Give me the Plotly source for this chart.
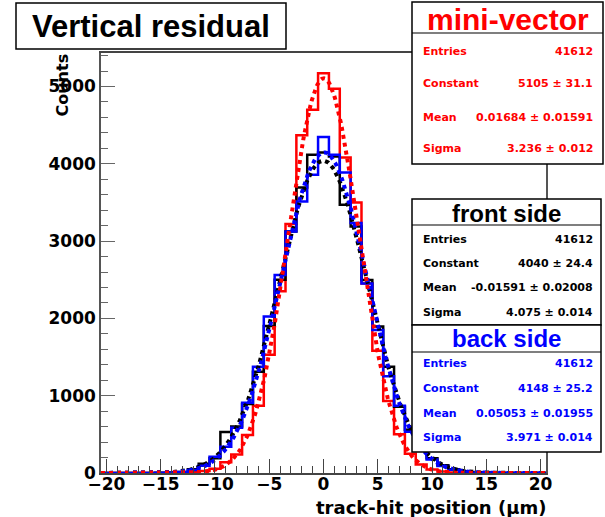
import numpy as np
import plotly.graph_objects as go

# ---------------- data ----------------
bins = list(range(-20, 21))  # bin centres, width 1

mini_vector = [0, 0, 0, 0, 0, 1, 2, 5, 10, 25, 55, 140, 240, 490, 870, 1530, 2350, 3220, 4370, 4700,
               5170,
               4970, 4080, 3500, 2450, 1580, 930, 500, 250, 110, 45, 20, 8, 4, 2, 1, 0, 0, 0, 0, 0]
front_side = [0, 0, 0, 0, 1, 3, 6, 14, 50, 120, 190, 530, 600, 893, 1311, 1900, 2500, 3123, 3693, 4116,
              4146,
              4094, 3470, 3190, 2498, 1894, 1376, 858, 560, 330, 190, 100, 50, 24, 11, 5, 2, 1, 0, 0, 0]
back_side = [0, 0, 0, 0, 0, 2, 5, 14, 40, 95, 210, 341, 586, 910, 1376, 2023, 2560, 3123, 3512, 3857,
             4345,
             4116, 3887, 3235, 2450, 1850, 1250, 870, 535, 320, 175, 90, 42, 19, 8, 3, 1, 0, 0, 0, 0]

names = ["mini-vector", "front side", "back side"]
entries = [41612, 41612, 41612]
constant = [5105, 4040, 4148]
constant_err = ["31.1", "24.4", "25.2"]
mean = [0.01684, -0.01591, 0.05053]
mean_err = ["0.01591", "0.02008", "0.01955"]
sigma = [3.236, 4.075, 3.971]
sigma_err = ["0.012", "0.014", "0.014"]
colors = ["#ff0000", "#000000", "#0000ff"]

x_ticks = [-20, -15, -10, -5, 0, 5, 10, 15, 20]

# ---------------- layout geometry ----------------
W, H = 605, 517
ML, MR, MT, MB = 101, 59, 53, 44
PW, PH = W - ML - MR, H - MT - MB


def px(x):
    return (x - ML) / PW


def py(y):
    return (H - MB - y) / PH


BOLD = "DejaVu Sans"
HEAD = "Liberation Sans"

fig = go.Figure()

series = [mini_vector, front_side, back_side]
draw_order = [0, 1, 2]
for i in draw_order:
    vals = series[i]
    xs = [b - 0.5 for b in bins] + [bins[-1] + 0.5]
    ys = vals + [vals[-1]]
    fig.add_trace(go.Scatter(x=xs, y=ys, mode="lines", line=dict(color=colors[i], width=2.5, shape="hv"),
                             hoverinfo="skip", showlegend=False))

# Gaussian fit curves from the fitted parameters shown in the stat boxes
xf = np.linspace(-20.5, 20.5, 400)
for i in [1, 2, 0]:
    yf = constant[i] * np.exp(-0.5 * ((xf - mean[i]) / sigma[i]) ** 2)
    fig.add_trace(go.Scatter(x=xf, y=yf, mode="lines",
                             line=dict(color=colors[i], width=4, dash="4px,4px"),
                             hoverinfo="skip", showlegend=False))

shapes = []
annotations = []

# title box
shapes.append(dict(type="rect", xref="paper", yref="paper", x0=px(16), x1=px(286), y0=py(49), y1=py(3),
                   line=dict(color="black", width=1.5), fillcolor="white", layer="above"))
annotations.append(dict(text="Vertical residual", xref="paper", yref="paper", x=px(151), y=py(26),
                        showarrow=False, xanchor="center", yanchor="middle",
                        font=dict(family=HEAD, size=31, color="black", weight="bold")))

# stat boxes: (top, separator, bottom, header_y, row_ys)
boxes = [
    (2, 33, 164, 19, [51, 84, 117, 148]),
    (199, 225, 325, 213, [239, 263, 287, 312]),
    (325, 352, 452, 338, [363, 388, 413, 437]),
]
head_sizes = [30, 24, 24]
for i, (top, sep, bot, hy, rows) in enumerate(boxes):
    c = colors[i]
    right = 603 if i == 0 else 601
    shapes.append(dict(type="rect", xref="paper", yref="paper", x0=px(412), x1=px(right), y0=py(bot), y1=py(top),
                       line=dict(color="black", width=1.5), fillcolor="white", layer="above"))
    shapes.append(dict(type="line", xref="paper", yref="paper", x0=px(412), x1=px(right), y0=py(sep), y1=py(sep),
                       line=dict(color="black", width=1.2), layer="above"))
    annotations.append(dict(text=names[i], xref="paper", yref="paper", x=px((412 + right) / 2), y=py(hy),
                            showarrow=False, xanchor="center", yanchor="middle",
                            font=dict(family=HEAD, size=head_sizes[i], color=c, weight="bold")))
    labels = ["Entries", "Constant", "Mean", "Sigma"]
    values = [f"{entries[i]}", f"{constant[i]} ± {constant_err[i]}",
              f"{mean[i]:.5f} ± {mean_err[i]}", f"{sigma[i]:.3f} ± {sigma_err[i]}"]
    for lab, val, ry in zip(labels, values, rows):
        annotations.append(dict(text=lab, xref="paper", yref="paper", x=px(421), y=py(ry), showarrow=False,
                                xanchor="left", yanchor="middle",
                                font=dict(family=BOLD, size=11, color=c, weight="bold")))
        annotations.append(dict(text=val, xref="paper", yref="paper", x=px(595), y=py(ry), showarrow=False,
                                xanchor="right", yanchor="middle",
                                font=dict(family=BOLD, size=11, color=c, weight="bold")))

# axis titles
annotations.append(dict(text="track-hit position (μm)", xref="paper", yref="paper", x=px(548), y=py(507),
                        showarrow=False, xanchor="right", yanchor="middle",
                        font=dict(family=BOLD, size=18, color="black", weight="bold")))
annotations.append(dict(text="Counts", xref="paper", yref="paper", x=px(62), y=py(52), textangle=-90,
                        showarrow=False, xanchor="center", yanchor="top",
                        font=dict(family=BOLD, size=16, color="black", weight="bold")))

fig.update_layout(
    width=W, height=H,
    margin=dict(l=ML, r=MR, t=MT, b=MB, pad=0),
    paper_bgcolor="white", plot_bgcolor="white",
    shapes=shapes, annotations=annotations,
    showlegend=False,
    xaxis=dict(range=[-20.5, 20.5], tickvals=x_ticks, ticks="inside", ticklen=14, tickwidth=1.3,
               tickcolor="#444", showline=True, linecolor="#444", linewidth=1.5, mirror=True,
               showgrid=False, zeroline=False, ticklabelstandoff=-5,
               minor=dict(dtick=1, tick0=0, ticks="inside", ticklen=7, tickcolor="#444", tickwidth=1.2),
               tickfont=dict(family=BOLD, size=17, color="black", weight="bold")),
    yaxis=dict(range=[0, 5433], tick0=0, dtick=1000, ticks="inside", ticklen=14, tickwidth=1.3,
               tickcolor="#666", showline=True, linecolor="#555", linewidth=1.5, mirror=True,
               showgrid=False, zeroline=False,
               minor=dict(dtick=200, tick0=0, ticks="inside", ticklen=7, tickcolor="#666", tickwidth=1.2),
               tickfont=dict(family=BOLD, size=17, color="black", weight="bold")),
)

fig.write_html("out.html", config={"displayModeBar": False},
               post_script="document.body.style.margin='0';document.body.style.overflow='hidden';")
